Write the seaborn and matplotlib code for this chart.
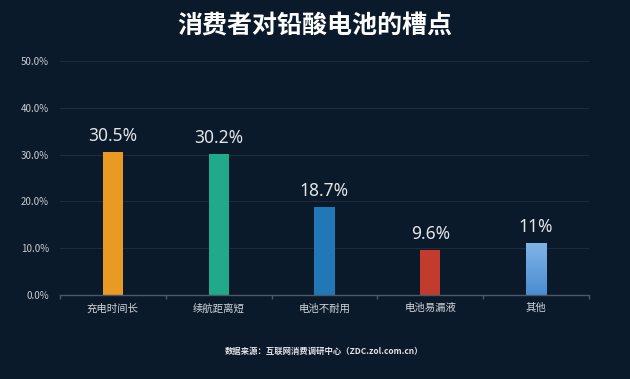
import matplotlib
matplotlib.use("Agg")
import matplotlib.pyplot as plt
from matplotlib.ticker import FuncFormatter, FixedLocator
from matplotlib.colors import LinearSegmentedColormap
import numpy as np
import pandas as pd
import seaborn as sns

# data
categories = ["充电时间长", "续航距离短", "电池不耐用", "电池易漏液", "其他"]
values = [30.5, 30.2, 18.7, 9.6, 11.0]
value_labels = ["30.5%", "30.2%", "18.7%", "9.6%", "11%"]
bar_colors = ["#E99A22", "#21A98B", "#2078B6", "#C23B2C", "#5C9DDB"]
y_ticks = [0, 10, 20, 30, 40, 50]

bg = "#0B1A2B"

sns.set_theme(style="dark")
plt.rcParams["font.family"] = ["Noto Sans CJK SC", "DejaVu Sans"]

df = pd.DataFrame({"category": categories, "value": values})

fig = plt.figure(figsize=(6.3, 3.79), dpi=100, facecolor=bg)
ax = fig.add_axes([0.095, 0.222, 0.84, 0.617])
ax.set_facecolor(bg)

sns.barplot(data=df, x="category", y="value", hue="category",
            palette=bar_colors, width=0.19, legend=False, ax=ax,
            saturation=1, edgecolor="none")

ax.set_ylim(0, 50)
ax.set_xlim(-0.5, len(categories) - 0.5)

# the last bar ("其他") has a light vertical gradient
last = ax.patches[-1]
x0, y0 = last.get_x(), last.get_y()
grad_cmap = LinearSegmentedColormap.from_list("g", ["#4A8CD2", "#80B4E6"])
img = ax.imshow(np.linspace(0, 1, 64).reshape(-1, 1), cmap=grad_cmap, origin="lower",
                extent=[x0, x0 + last.get_width(), y0, y0 + last.get_height()],
                aspect="auto", zorder=last.get_zorder() + 0.1)
img.set_clip_path(last)
ax.set_xlim(-0.5, len(categories) - 0.5)
ax.set_ylim(0, 50)

ax.yaxis.set_major_locator(FixedLocator(y_ticks))
ax.yaxis.set_major_formatter(FuncFormatter(lambda v, p: f"{v:.1f}%"))
ax.grid(axis="y", color="#1D2C3D", linewidth=0.8)
ax.grid(axis="x", visible=False)
ax.set_axisbelow(True)

for s in ["top", "right", "left"]:
    ax.spines[s].set_visible(False)
ax.spines["bottom"].set_color("#4A5868")
ax.spines["bottom"].set_linewidth(1.0)

# ticks between categories on the x axis
ax.set_xticks(range(len(categories)))
ax.set_xticklabels(categories)
ax.xaxis.set_minor_locator(FixedLocator([i - 0.5 for i in range(len(categories) + 1)]))
ax.tick_params(axis="x", which="major", length=0, colors="#D0D4DA", labelsize=7.5, pad=6)
ax.tick_params(axis="x", which="minor", length=3, color="#4A5868", bottom=True)
ax.tick_params(axis="y", length=0, colors="#C8CCD2", labelsize=7, pad=8)
ax.set_xlabel("")
ax.set_ylabel("")

for i, (v, lab) in enumerate(zip(values, value_labels)):
    ax.annotate(lab, (i, v), xytext=(0, 5), textcoords="offset points",
                ha="center", va="bottom", color="#E2E4E8", fontsize=12.5,
                family=["Noto Sans", "DejaVu Sans"])

fig.text(0.5, 0.929, "消费者对铅酸电池的槽点", ha="center", va="center",
         color="white", fontsize=18, fontweight="bold")
fig.text(0.357, 0.072, "数据来源：互联网消费调研中心（ZDC.zol.com.cn）", ha="left",
         va="center", color="#E0E2E6", fontsize=6, fontweight="bold")

fig.savefig("out.png", dpi=100, facecolor=bg)
